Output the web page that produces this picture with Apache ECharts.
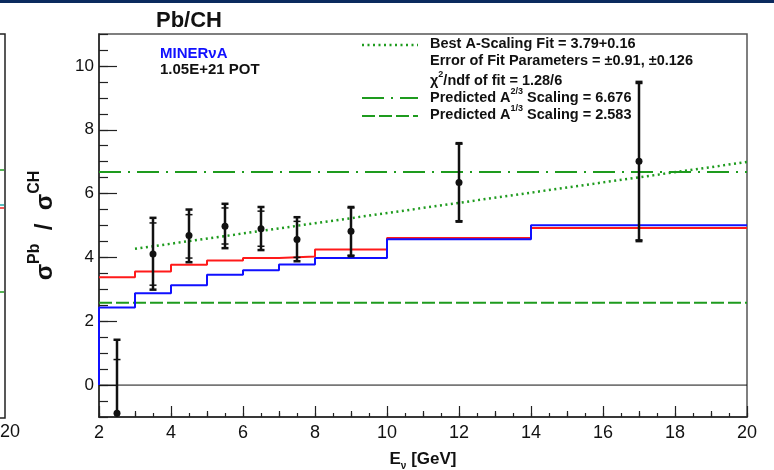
<!DOCTYPE html>
<html><head><meta charset="utf-8">
<script src="https://cdn.jsdelivr.net/npm/echarts@6/dist/echarts.min.js"></script>
<style>html,body{margin:0;padding:0;background:#fff}#c{width:774px;height:470px}</style>
</head><body><div id="c"></div>
<script>
// ---- data ----
const binEdges = [2, 3, 4, 5, 6, 7, 8, 10, 14, 20];
const blueValues = [2.43, 2.88, 3.13, 3.46, 3.60, 3.78, 3.98, 4.57, 5.01];
const redValues = [3.38, 3.56, 3.77, 3.90, 3.98, 4.03, 4.25, 4.61, 4.92];
const pointX = [2.5, 3.5, 4.5, 5.5, 6.5, 7.5, 9, 12, 17];
const pointY = [-0.88, 4.11, 4.69, 4.98, 4.90, 4.56, 4.82, 6.35, 7.01];
const statLow = [-2.6, 3.13, 3.98, 4.42, 4.35, 4.00, 4.07, 5.15, 4.55];
const statHigh = [0.80, 5.08, 5.34, 5.55, 5.45, 5.13, 5.55, 7.55, 9.45];
const totLow = [-3.2, 2.99, 3.85, 4.29, 4.23, 3.88, 4.04, 5.12, 4.51];
const totHigh = [1.42, 5.24, 5.50, 5.68, 5.58, 5.26, 5.58, 7.58, 9.50];
const fitLine = [[3, 4.27], [20, 6.99]];
const a23Value = 6.676;
const a13Value = 2.583;
const zeroValue = 0;
const xRange = [2, 20];
const yRange = [-1, 11];
const yTickValues = [0, 2, 4, 6, 8, 10];
const legendTexts = [
  '{b|Best A-Scaling Fit = 3.79+0.16}',
  '{b|Error of Fit Parameters = \u00b10.91, \u00b10.126}',
  '{b|\u03c7}{s|2}{b|/ndf of fit = 1.28/6}',
  '{b|Predicted A}{s|2/3}{b| Scaling = 6.676}',
  '{b|Predicted A}{s|1/3}{b| Scaling = 2.583}'
];

// ---- build ----
function hist(values, fromZero) {
  const d = [];
  if (fromZero) d.push([binEdges[0], 0]);
  for (let i = 0; i < values.length; i++) d.push([binEdges[i], values[i]]);
  d.push([binEdges[binEdges.length - 1], values[values.length - 1]]);
  return d;
}
const GREEN = '#1e9b1e';
const FONT = '"Liberation Sans", Arial, Helvetica, sans-serif';
const chart = echarts.init(document.getElementById('c'), null, {renderer: 'canvas'});

const errData = pointX.map((x, i) => [x, pointY[i], statLow[i], statHigh[i], totLow[i], totHigh[i]]);

const legendY = [45, 62, 79, 96, 113];
const graphics = [
  {type: 'rect', shape: {x: 0, y: 0, width: 774, height: 3}, style: {fill: '#0b2a5e'}, silent: true},
  // remnant of neighbouring panel
  {type: 'polyline', shape: {points: [[0, 34], [5, 34], [5, 418], [0, 418]]}, style: {stroke: '#222', lineWidth: 1.5, fill: null}},
  {type: 'line', shape: {x1: 0, y1: 170, x2: 4, y2: 170}, style: {stroke: GREEN, lineWidth: 1.5}},
  {type: 'line', shape: {x1: 0, y1: 205, x2: 4, y2: 205}, style: {stroke: '#2aa', lineWidth: 1.5}},
  {type: 'line', shape: {x1: 0, y1: 208, x2: 4, y2: 208}, style: {stroke: '#e22', lineWidth: 1.5}},
  {type: 'line', shape: {x1: 0, y1: 292, x2: 4, y2: 292}, style: {stroke: GREEN, lineWidth: 1.5}},
  {type: 'text', left: 0, top: 423, style: {text: '20', font: '18px ' + FONT, fill: '#111'}},
  // experiment label
  {type: 'text', left: 160, top: 46, style: {text: 'MINER\u03bdA', font: 'bold 15px ' + FONT, fill: '#1010ff'}},
  {type: 'text', left: 160, top: 62, style: {text: '1.05E+21 POT', font: 'bold 15px ' + FONT, fill: '#111'}},
  // legend samples
  {type: 'line', shape: {x1: 362, y1: 45, x2: 418, y2: 45}, style: {stroke: GREEN, lineWidth: 2.5, lineDash: [2, 3.5]}},
  {type: 'line', shape: {x1: 362, y1: 98, x2: 418, y2: 98}, style: {stroke: GREEN, lineWidth: 2, lineDash: [22, 7, 2, 7]}},
  {type: 'line', shape: {x1: 362, y1: 116, x2: 418, y2: 116}, style: {stroke: GREEN, lineWidth: 2, lineDash: [13, 4]}}
];
legendTexts.forEach((t, i) => {
  graphics.push({
    type: 'text', left: 430, top: legendY[i] - 9,
    style: {
      text: t, fill: '#111', font: 'bold 14.5px ' + FONT,
      rich: {
        b: {fontSize: 14.5, fontWeight: 'bold', fontFamily: FONT, fill: '#111', verticalAlign: 'bottom', lineHeight: 18},
        s: {fontSize: 9, fontWeight: 'bold', fontFamily: FONT, fill: '#111', verticalAlign: 'top', lineHeight: 18}
      }
    }
  });
});

const option = {
  animation: false,
  backgroundColor: '#fff',
  title: {text: 'Pb/CH', left: 151, top: 5, textStyle: {fontSize: 22, fontWeight: 'bold', fontFamily: FONT, color: '#111'}},
  grid: {left: 99, right: 27, top: 34, bottom: 53, containLabel: false, outerBoundsMode: 'none',
    show: true, borderColor: '#555', borderWidth: 1.5, backgroundColor: 'transparent'},
  xAxis: [
    {type: 'value', min: xRange[0], max: xRange[1], interval: 2, position: 'bottom',
      name: '{e|E}{n|\u03bd}{e| [GeV]}', nameLocation: 'middle', nameGap: 34,
      nameTextStyle: {rich: {
        e: {fontSize: 17, fontWeight: 'bold', fontFamily: FONT, color: '#111', verticalAlign: 'top', lineHeight: 20},
        n: {fontSize: 10, fontWeight: 'bold', fontFamily: FONT, color: '#111', verticalAlign: 'bottom', lineHeight: 20}
      }},
      axisLine: {show: true, onZero: false, lineStyle: {color: '#222', width: 1.5}},
      axisTick: {inside: true, length: 11, lineStyle: {color: '#222', width: 1.2}},
      minorTick: {show: true, splitNumber: 2, length: 6, lineStyle: {color: '#222', width: 1.2}},
      axisLabel: {fontSize: 18, fontFamily: FONT, color: '#111', margin: 7},
      splitLine: {show: false}},
    {type: 'value', min: xRange[0], max: xRange[1], interval: 0.5, position: 'bottom', offset: 0,
      axisLine: {show: false, onZero: false},
      axisTick: {inside: true, length: 4, lineStyle: {color: '#222', width: 1.2}},
      axisLabel: {show: false}, splitLine: {show: false}}
  ],
  yAxis: [
    {type: 'value', min: yRange[0], max: yRange[1], position: 'left',
      name: '{g|\u03c3}{s|Pb}{g|  /  \u03c3}{s|CH}', nameLocation: 'middle', nameGap: 42, nameRotate: 90,
      nameTextStyle: {rich: {
        g: {fontSize: 24, fontWeight: 'bold', fontFamily: FONT, color: '#111', verticalAlign: 'bottom', lineHeight: 30},
        s: {fontSize: 16, fontWeight: 'bold', fontFamily: FONT, color: '#111', verticalAlign: 'top', lineHeight: 30}
      }},
      axisLine: {show: true, onZero: false, lineStyle: {color: '#222', width: 1.5}},
      axisTick: {inside: true, length: 18, customValues: yTickValues, lineStyle: {color: '#222', width: 1.2}},
      axisLabel: {customValues: yTickValues, fontSize: 17, fontFamily: FONT, color: '#111', margin: 5},
      splitLine: {show: false}},
    {type: 'value', min: yRange[0], max: yRange[1], interval: 0.5, position: 'left', offset: 0,
      axisLine: {show: false, onZero: false},
      axisTick: {inside: true, length: 9, lineStyle: {color: '#222', width: 1.2}},
      axisLabel: {show: false}, splitLine: {show: false}}
  ],
  graphic: graphics,
  series: [
    {type: 'line', name: 'zero', data: [[xRange[0], zeroValue], [xRange[1], zeroValue]], symbol: 'none',
      lineStyle: {color: '#111', width: 1}, z: 1},
    {type: 'line', name: 'A1/3', data: [[xRange[0], a13Value], [xRange[1], a13Value]], symbol: 'none',
      lineStyle: {color: GREEN, width: 2, type: [13, 4]}, z: 2},
    {type: 'line', name: 'A2/3', data: [[xRange[0], a23Value], [xRange[1], a23Value]], symbol: 'none',
      lineStyle: {color: GREEN, width: 2, type: [22, 7, 2, 7]}, z: 2},
    {type: 'line', name: 'red', data: hist(redValues, false), step: 'end', symbol: 'none',
      lineStyle: {color: '#ff1a1a', width: 2}, z: 3},
    {type: 'line', name: 'blue', data: hist(blueValues, true), step: 'end', symbol: 'none',
      lineStyle: {color: '#1010ff', width: 2}, z: 4},
    {type: 'line', name: 'fit', data: fitLine, symbol: 'none',
      lineStyle: {color: GREEN, width: 2.5, type: [2, 3.5]}, z: 5},
    {type: 'custom', name: 'data', data: errData, clip: true, z: 6,
      encode: {x: 0, y: 1},
      renderItem: function (params, api) {
        const x = api.value(0);
        const p = api.coord([x, api.value(1)]);
        const sl = api.coord([x, api.value(2)])[1];
        const sh = api.coord([x, api.value(3)])[1];
        const tl = api.coord([x, api.value(4)])[1];
        const th = api.coord([x, api.value(5)])[1];
        const cw = 3.5;
        const st = {stroke: '#111', lineWidth: 2.5};
        const cap = (y, w) => ({type: 'line', shape: {x1: p[0] - cw, y1: y, x2: p[0] + cw, y2: y}, style: {stroke: '#111', lineWidth: w}});
        return {type: 'group', children: [
          {type: 'line', shape: {x1: p[0], y1: tl, x2: p[0], y2: th}, style: st},
          cap(th, 2.5), cap(tl, 2.5), cap(sh, 1.5), cap(sl, 1.5),
          {type: 'circle', shape: {cx: p[0], cy: p[1], r: 3.5}, style: {fill: '#111'}}
        ]};
      }}
  ]
};
chart.setOption(option);
</script>
</body></html>
